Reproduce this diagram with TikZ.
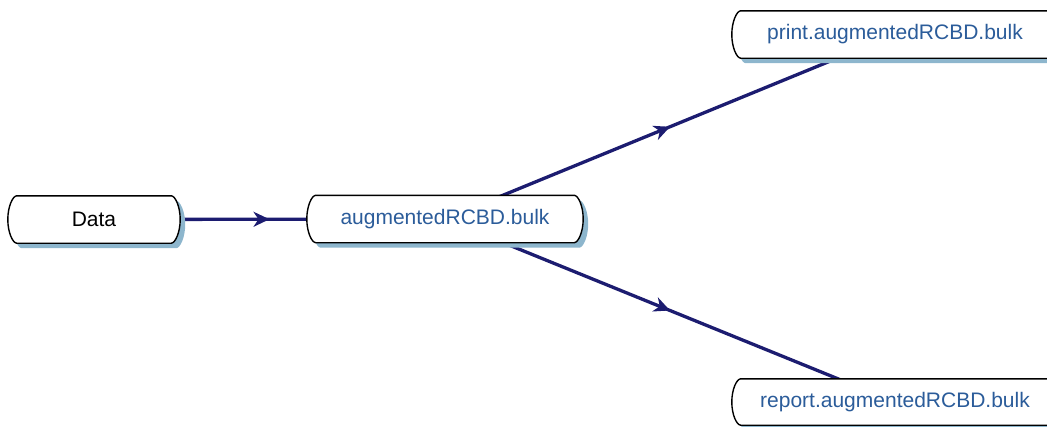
\documentclass[tikz,border=0pt]{standalone}
\usepackage{fontspec}
\setmainfont{Liberation Sans}
\usetikzlibrary{arrows.meta,decorations.markings}
\definecolor{navy}{HTML}{1C1C70}
\definecolor{shadowc}{HTML}{8DB6CD}
\definecolor{txtblue}{HTML}{2B5C9A}
\pgfdeclarelayer{bg}
\pgfdeclarelayer{shapes}
\pgfsetlayers{bg,shapes,main}
% outline of a box with bulging ends around node #1, shifted by (#2,#3)
\newcommand\bulkpath[4]{%
  \path[#4]
    ([xshift=#2+5pt,yshift=#3]#1.north west) -- ([xshift=#2-5pt,yshift=#3]#1.north east)
    .. controls +(4pt,0) and +(0,13pt) .. ([xshift=#2+4pt,yshift=#3]#1.east)
    .. controls +(0,-13pt) and +(4pt,0) .. ([xshift=#2-5pt,yshift=#3]#1.south east)
    -- ([xshift=#2+5pt,yshift=#3]#1.south west)
    .. controls +(-4pt,0) and +(0,-13pt) .. ([xshift=#2-4pt,yshift=#3]#1.west)
    .. controls +(0,13pt) and +(-4pt,0) .. ([xshift=#2+5pt,yshift=#3]#1.north west) -- cycle;}
\newcommand\drawbulk[1]{%
  \begin{pgfonlayer}{shapes}
  \bulkpath{#1}{5pt}{-5pt}{fill=shadowc}
  \bulkpath{#1}{0pt}{0pt}{fill=white, draw=black, line width=1.4pt, line join=round}
  \end{pgfonlayer}}
\tikzset{
  bulk/.style={rectangle, inner sep=0pt, minimum height=47pt, font=\fontsize{21}{24}\selectfont, text=txtblue},
  link/.style={draw=navy, line width=3.3pt, postaction={decorate},
    decoration={markings, mark=at position 0.5 with {\arrow{Stealth[length=16pt,width=15pt,inset=5pt]}}}}
}
\begin{document}
\begin{tikzpicture}[x=1pt,y=-1pt]
\useasboundingbox (0,0) rectangle (1047,426);
\clip (0,0) rectangle (1047,426);
\node[bulk, text=black, minimum width=164pt] (data) at (94,219.5) {Data};
\node[bulk, minimum width=268pt] (aug) at (445,219) {augmentedRCBD.bulk};
\node[bulk, minimum width=318pt] (print) at (895,34.5) {print.augmentedRCBD.bulk};
\node[bulk, minimum width=318pt, minimum height=46pt] (report) at (895,402) {report.augmentedRCBD.bulk};
\drawbulk{data}
\drawbulk{aug}
\drawbulk{print}
\drawbulk{report}
\begin{pgfonlayer}{bg}
\draw[link] (data.center) -- (aug.center);
\draw[link] (aug.center) -- (print.center);
\draw[link] (aug.center) -- (report.center);
\end{pgfonlayer}
\end{tikzpicture}
\end{document}
